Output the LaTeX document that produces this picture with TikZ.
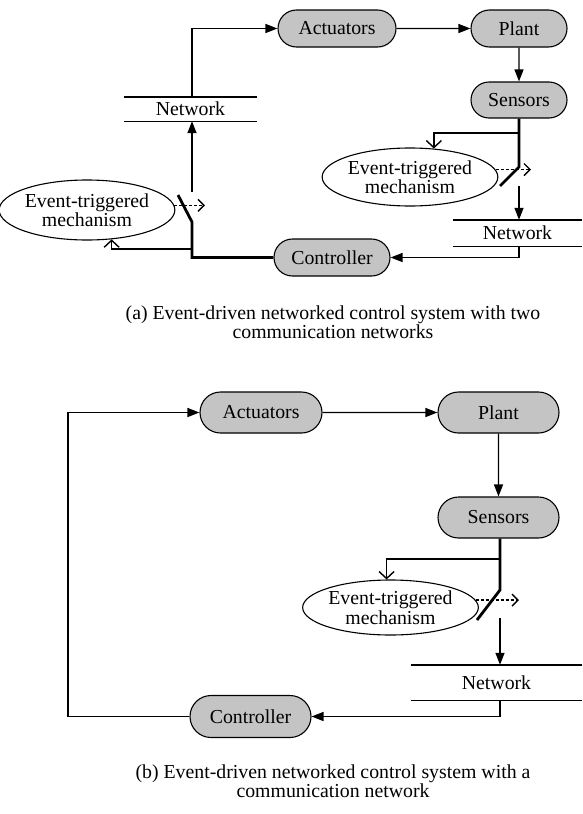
\documentclass[tikz,border=0pt]{standalone}
\usepackage{fontspec}
\setmainfont{Liberation Serif}
\usetikzlibrary{arrows.meta,shapes.misc,shapes.geometric,calc}
\definecolor{boxfill}{RGB}{196,196,196}
\newcommand\dgfont{\fontsize{19.8}{19.5}\selectfont}
\begin{document}
\begin{tikzpicture}[x=1pt,y=-1pt,
  blk/.style={rounded rectangle, draw, line width=1.1pt, fill=boxfill, inner sep=0pt, font=\dgfont},
  ell/.style={ellipse, draw, line width=1.1pt, inner sep=0pt, align=center, font=\dgfont},
  netw/.style={inner sep=0pt, font=\dgfont},
  ln/.style={line width=1.4pt},
  arr/.style={line width=1.4pt, -{Triangle[length=12pt,width=9pt]}},
  thk/.style={line width=2.8pt},
  oarr/.style={line width=1.4pt, -{Straight Barb[length=7pt,width=15pt,line width=1.4pt]}},
  darr/.style={line width=1.4pt, dash pattern=on 3pt off 2pt, -{Straight Barb[length=6pt,width=12pt,line width=1.4pt]}},
  captxt/.style={align=center, font=\dgfont, inner sep=0pt}]
\useasboundingbox (0,0) rectangle (582,814);

% ---------------- (a) ----------------
\node[blk, minimum width=118pt, minimum height=37pt] (act) at (337,28.5) {Actuators};
\node[blk, minimum width=96pt, minimum height=37pt] (plant) at (519,28.5) {Plant};
\node[blk, minimum width=96pt, minimum height=36pt] (sens) at (519,100) {Sensors};
\node[blk, minimum width=116pt, minimum height=37pt] (ctrl) at (332,257.5) {Controller};
\node[ell, minimum width=154pt, minimum height=58pt] (ellR) at (410,177) {Event-triggered\\mechanism};
\node[ell, minimum width=160pt, minimum height=60pt] (ellL) at (87,210) {Event-triggered\\mechanism};
\node[netw, minimum width=133pt, minimum height=24pt] (netL) at (190.5,109) {Network};
\node[netw, minimum width=129pt, minimum height=26pt] (netR) at (517.5,233) {Network};
\draw[ln] (netL.north west) -- (netL.north east) (netL.south west) -- (netL.south east);
\draw[ln] (netR.north west) -- (netR.north east) (netR.south west) -- (netR.south east);

\coordinate (p1) at (519,167);
\coordinate (q1) at (500,186);
\coordinate (s1) at (519,186);
\coordinate (b1) at (519,133);
\coordinate (d1) at (531,172);
\coordinate (p2) at (192,222);
\coordinate (q2) at (178,195);
\coordinate (s2) at (192,192);
\coordinate (b2) at (192,249);
\coordinate (d2) at (205,208);

\draw[arr] (act) -- (plant);
\draw[arr] (plant) -- (sens);
\draw[thk] (sens.south) -- (p1) -- (q1);
\draw[oarr] (b1) -| (ellR.50);
\draw[darr] (ellR.5) -- (ellR.5 -| d1);
\draw[arr] (s1) -- (s1 |- netR.north);
\draw[arr] (s1 |- netR.south) |- (ctrl.east);
\draw[thk] (ctrl.west) -| (p2) -- (q2);
\draw[oarr] (b2) -| (ellL.310);
\draw[darr] (ellL.3) -- (ellL.3 -| d2);
\draw[arr] (s2) -- (s2 |- netL.south);
\draw[arr] (s2 |- netL.north) |- (act.west);

\node[captxt] (capa) at (333,322) {(a) Event-driven networked control system with two\\communication networks};

% ---------------- (b) ----------------
\node[blk, minimum width=122pt, minimum height=41pt] (act2) at (261,412.5) {Actuators};
\node[blk, minimum width=121pt, minimum height=41pt] (plant2) at (498.5,412.5) {Plant};
\node[blk, minimum width=121pt, minimum height=41pt] (sens2) at (498.5,517.5) {Sensors};
\node[blk, minimum width=121pt, minimum height=42pt] (ctrl2) at (250.5,716.5) {Controller};
\node[ell, minimum width=159pt, minimum height=55pt] (ellB) at (390.5,607.5) {Event-triggered\\mechanism};
\node[netw, minimum width=171pt, minimum height=35pt] (netB) at (496.5,682.5) {Network};
\draw[ln] (netB.north west) -- (netB.north east) (netB.south west) -- (netB.south east);

\coordinate (p3) at (500,590);
\coordinate (q3) at (477,620);
\coordinate (s3) at (500,618);
\coordinate (b3) at (500,559);
\coordinate (d3) at (519,602);
\coordinate (lx) at (68,560);

\draw[arr] (act2) -- (plant2);
\draw[arr] (plant2) -- (sens2);
\draw[thk] (sens2.south -| p3) -- (p3) -- (q3);
\draw[oarr] (b3) -| (ellB.98);
\draw[darr] (ellB.5) -- (ellB.5 -| d3);
\draw[arr] (s3) -- (s3 |- netB.north);
\draw[arr] (s3 |- netB.south) |- (ctrl2.east);
\draw[arr] (ctrl2.west) -| (lx) |- (act2.west);

\node[captxt] (capb) at (333,781) {(b) Event-driven networked control system with a\\communication network};
\end{tikzpicture}
\end{document}
